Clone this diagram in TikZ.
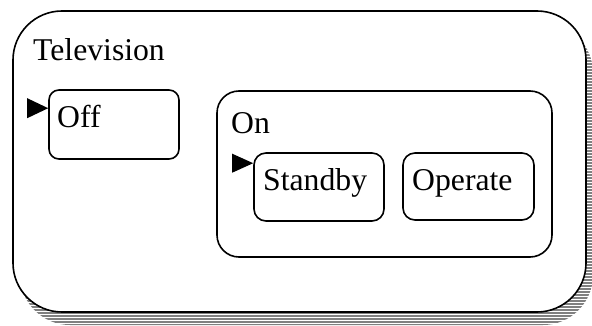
\documentclass[tikz,border=0pt]{standalone}
\usepackage{fontspec}
\setmainfont{Liberation Serif}
\usetikzlibrary{calc}
\begin{document}
\begin{tikzpicture}[x=1pt,y=-1pt,
  statebox/.style={draw=black,line width=1.6pt,fill=white},
  lbl/.style={anchor=base west,inner sep=0pt,font=\fontsize{31.7}{36}\selectfont},
  initmark/.style={fill=black}]
\useasboundingbox (0,0) rectangle (592,326);
\fill[white] (0,0) rectangle (592,326);

% hatched drop shadow of the outer state
\begin{scope}
  \clip[rounded corners=50pt] (20,23) rectangle (593,325);
  \foreach \k in {0,...,109} {
    \draw[draw=black!50,line width=2pt] (0,{1+3*\k}) -- (592,{1+3*\k});
  }
\end{scope}

% outer composite state
\draw[statebox,rounded corners=49pt] (13,11) rectangle (586,312);
\node[lbl] (tv) at (33,61) {Television};

% Off state with its initial marker
\node[statebox,rounded corners=10pt,minimum width=130pt,minimum height=69pt,inner sep=0pt]
  (off) at (114,124.5) {};
\node[lbl] (offl) at (57,128) {Off};
\fill[initmark] ($(off.north west)+(0,19)$) -- ++(-21,-10) -- ++(0,20) -- cycle;

% On composite state
\node[statebox,rounded corners=22pt,minimum width=335pt,minimum height=166pt,inner sep=0pt]
  (on) at (384.5,174) {};
\node[lbl] (onl) at (231,134) {On};

% Standby and Operate substates
\node[statebox,rounded corners=12pt,minimum width=130pt,minimum height=68pt,inner sep=0pt]
  (standby) at (319,187) {};
\node[lbl] (standbyl) at (263,190) {Standby};
\fill[initmark] ($(standby.north west)+(0,11)$) -- ++(-21,-9.5) -- ++(0,19) -- cycle;

\node[statebox,rounded corners=12pt,minimum width=131pt,minimum height=67pt,inner sep=0pt]
  (operate) at (468.5,186.5) {};
\node[lbl] (operatel) at (412,190) {Operate};
\end{tikzpicture}
\end{document}
